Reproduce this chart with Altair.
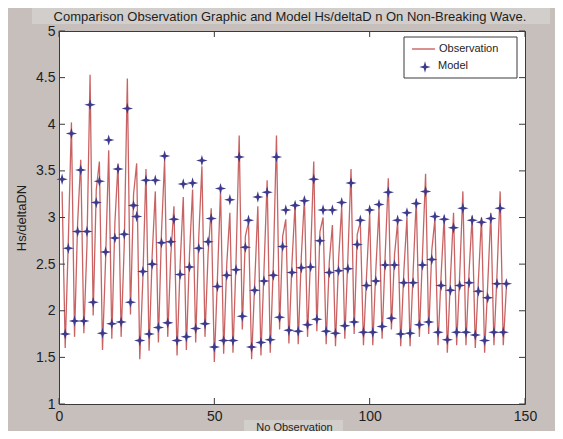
import altair as alt
import pandas as pd

# ---------------- data ----------------
x_vals = list(range(1, 145))

model = [3.41, 1.75, 2.67, 3.90, 1.89, 2.85, 3.51, 1.89, 2.85, 4.21, 2.09, 3.16,
         3.39, 1.76, 2.63, 3.83, 1.86, 2.78, 3.52, 1.88, 2.82, 4.17, 2.09, 3.13,
         3.01, 1.68, 2.42, 3.40, 1.75, 2.50, 3.40, 1.82, 2.73, 3.66, 1.87, 2.74,
         2.98, 1.68, 2.39, 3.36, 1.72, 2.47, 3.37, 1.81, 2.67, 3.61, 1.86, 2.74,
         2.99, 1.61, 2.26, 3.31, 1.68, 2.38, 3.19, 1.68, 2.44, 3.65, 1.94, 2.68,
         2.97, 1.61, 2.22, 3.22, 1.66, 2.32, 3.27, 1.69, 2.38, 3.65, 1.93, 2.69,
         3.08, 1.79, 2.41, 3.13, 1.78, 2.46, 3.18, 1.85, 2.47, 3.41, 1.91, 2.75,
         3.08, 1.78, 2.41, 3.08, 1.76, 2.43, 3.16, 1.84, 2.45, 3.37, 1.88, 2.71,
         2.97, 1.77, 2.27, 3.08, 1.77, 2.32, 3.14, 1.83, 2.49, 3.27, 1.92, 2.49,
         2.97, 1.75, 2.30, 3.05, 1.76, 2.30, 3.15, 1.85, 2.49, 3.28, 1.88, 2.55,
         3.01, 1.77, 2.27, 2.98, 1.69, 2.22, 2.89, 1.77, 2.27, 3.10, 1.77, 2.30,
         2.97, 1.74, 2.21, 2.95, 1.68, 2.14, 2.99, 1.77, 2.29, 3.10, 1.77, 2.29]

observation = [3.28, 1.60, 2.75, 4.02, 1.72, 2.95, 3.62, 1.76, 2.70, 4.53, 1.95, 3.30,
               3.60, 1.58, 2.55, 3.72, 1.70, 2.95, 3.58, 1.72, 2.70, 4.49, 1.96, 3.25,
               3.58, 1.48, 2.35, 3.52, 1.57, 2.60, 3.28, 1.66, 2.85, 3.62, 1.72, 2.60,
               3.12, 1.52, 2.50, 3.22, 1.58, 2.60, 3.30, 1.66, 2.80, 3.55, 1.72, 2.62,
               3.10, 1.45, 2.35, 3.30, 1.54, 2.50, 3.05, 1.55, 2.55, 3.88, 1.80, 2.80,
               2.95, 1.48, 2.30, 3.12, 1.52, 2.45, 3.40, 1.55, 2.50, 3.88, 1.80, 2.80,
               2.98, 1.65, 2.52, 3.15, 1.64, 2.58, 3.22, 1.72, 2.60, 3.60, 1.78, 2.85,
               3.00, 1.64, 2.52, 2.92, 1.62, 2.55, 3.12, 1.70, 2.58, 3.52, 1.75, 2.82,
               2.95, 1.63, 2.38, 3.05, 1.63, 2.45, 3.10, 1.70, 2.60, 3.42, 1.80, 2.60,
               2.95, 1.62, 2.42, 3.00, 1.62, 2.42, 3.20, 1.72, 2.60, 3.47, 1.75, 2.65,
               2.98, 1.63, 2.38, 3.02, 1.55, 2.35, 3.05, 1.63, 2.40, 3.28, 1.63, 2.42,
               3.02, 1.60, 2.33, 3.00, 1.55, 2.28, 3.05, 1.63, 2.40, 3.28, 1.63, 2.25]

x_ticks = [0, 50, 100, 150]
y_ticks = [1, 1.5, 2, 2.5, 3, 3.5, 4, 4.5, 5]
series_names = ["Observation", "Model"]

TITLE = "Comparison Observation Graphic and Model Hs/deltaD n On Non-Breaking Wave."
X_TITLE = "No Observation"
Y_TITLE = "Hs/deltaDN"

# ---------------- style ----------------
W, H = 466, 373
FONT = "Liberation Sans"
TXT = "#1e1e1e"
FRAME = "#3a3a3a"
RED = "#c04848"
BLUE = "#3d3a8c"
BG = "#c6bfbb"
BAND = "#d2cecb"
STAR = "M0,-1L0.22,-0.22L1,0L0.22,0.22L0,1L-0.22,0.22L-1,0L-0.22,-0.22Z"

df = pd.DataFrame({"n": x_vals, "obs": observation, "model": model})
xt = pd.DataFrame({"n": x_ticks})
yt = pd.DataFrame({"obs": y_ticks})
one = pd.DataFrame({"k": [0]})

xs = alt.Scale(domain=[0, 150], nice=False, zero=False)
ys = alt.Scale(domain=[1, 5], nice=False, zero=False)

x_axis = alt.Axis(values=x_ticks, format="d", tickSize=0, domain=False, grid=False,
                  labelFont=FONT, labelFontSize=14, labelColor=TXT, labelPadding=5,
                  labelFlush=False, labelOverlap=False,
                  title=X_TITLE, titleFont=FONT, titleFontSize=11, titleFontWeight="normal",
                  titleColor=TXT, titleX=235, titleY=23, titleBaseline="middle",
                  titleAlign="center", zindex=1)
y_axis = alt.Axis(values=y_ticks, format="~g", tickSize=0, domain=False, grid=False,
                  labelFont=FONT, labelFontSize=14, labelColor=TXT, labelPadding=4,
                  labelFlush=False, labelOverlap=False,
                  title=Y_TITLE, titleFont=FONT, titleFontSize=13, titleFontWeight="normal",
                  titleColor=TXT, titleX=-38, titleY=H / 2, titleAngle=-90,
                  titleBaseline="middle", titleAlign="center", zindex=1)


def X(field="n"):
    return alt.X(f"{field}:Q", scale=xs, axis=x_axis)


def Y(field):
    return alt.Y(f"{field}:Q", scale=ys, axis=y_axis)


title_band = alt.Chart(one).mark_rect(fill=BAND).encode(
    x=alt.value(-27), x2=alt.value(491), y=alt.value(-23), y2=alt.value(-7))
title_text = alt.Chart(one).mark_text(text=TITLE, font=FONT, fontSize=13, color=TXT,
                                      align="center", baseline="middle").encode(
    x=alt.value(W / 2 - 2), y=alt.value(-14))
xlabel_band = alt.Chart(one).mark_rect(fill=BAND).encode(
    x=alt.value(185), x2=alt.value(284), y=alt.value(389), y2=alt.value(400))

line = alt.Chart(df).mark_line(color=RED, strokeWidth=1.3, opacity=0.85).encode(
    x=X(), y=Y("obs"))

pts = alt.Chart(df).mark_point(shape=STAR, filled=True, size=130, color=BLUE, opacity=1).encode(
    x=X(), y=Y("model"))

xtick_b = alt.Chart(xt).mark_rule(color=FRAME, strokeWidth=1).encode(
    x=X(), y=alt.value(H - 6), y2=alt.value(H))
xtick_t = alt.Chart(xt).mark_rule(color=FRAME, strokeWidth=1).encode(
    x=X(), y=alt.value(0), y2=alt.value(6))
ytick_l = alt.Chart(yt).mark_rule(color=FRAME, strokeWidth=1).encode(
    y=Y("obs"), x=alt.value(0), x2=alt.value(6))
ytick_r = alt.Chart(yt).mark_rule(color=FRAME, strokeWidth=1).encode(
    y=Y("obs"), x=alt.value(W - 6), x2=alt.value(W))

leg_box = alt.Chart(one).mark_rect(fill="white", stroke=FRAME, strokeWidth=1).encode(
    x=alt.value(345), x2=alt.value(458), y=alt.value(6), y2=alt.value(47))
leg_line = alt.Chart(one).mark_rule(color=RED, strokeWidth=1.5, opacity=0.8).encode(
    x=alt.value(353), x2=alt.value(376), y=alt.value(18))
leg_pt = alt.Chart(one).mark_point(shape=STAR, filled=True, size=130, color=BLUE, opacity=1).encode(
    x=alt.value(366), y=alt.value(36))
leg_t1 = alt.Chart(one).mark_text(text=series_names[0], font=FONT, fontSize=11, color=TXT,
                                  align="left", baseline="middle").encode(
    x=alt.value(380), y=alt.value(18))
leg_t2 = alt.Chart(one).mark_text(text=series_names[1], font=FONT, fontSize=11, color=TXT,
                                  align="left", baseline="middle").encode(
    x=alt.value(379), y=alt.value(35))

chart = alt.layer(
    line, pts, xtick_b, xtick_t, ytick_l, ytick_r,
    title_band, title_text, xlabel_band,
    leg_box, leg_line, leg_pt, leg_t1, leg_t2
).properties(
    width=W, height=H,
    padding={"left": 51, "top": 23, "right": 30, "bottom": 27},
    autosize=alt.AutoSizeParams(type="none"),
).configure(background=BG).configure_view(fill="white", stroke=FRAME, strokeWidth=1)

chart.save("out.html", embed_options={"renderer": "svg", "actions": False})
